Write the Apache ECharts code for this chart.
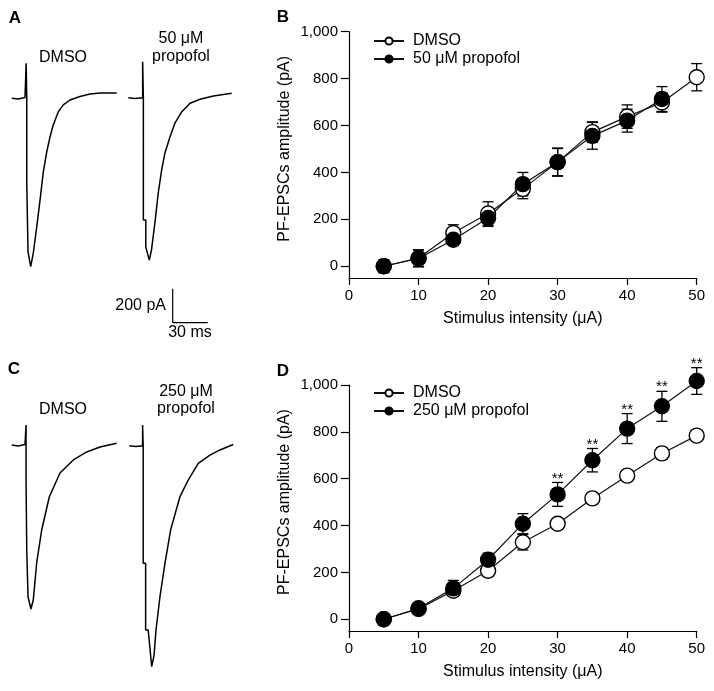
<!DOCTYPE html>
<html>
<head>
<meta charset="utf-8">
<script src="https://cdn.jsdelivr.net/npm/echarts@6/dist/echarts.min.js"></script>
<style>
html,body{margin:0;padding:0;background:#fff;}
#chart{width:714px;height:691px;}
</style>
</head>
<body>
<div id="chart"></div>
<script>
// ---------- data ----------
const intensity = [5, 10, 15, 20, 25, 30, 35, 40, 45, 50];
const xTicks = [0, 10, 20, 30, 40, 50];
const yTicks = [0, 200, 400, 600, 800, 1000];

// Panel B
const dmsoB = [0, 35, 142, 225, 330, 444, 572, 638, 698, 806];
const dmsoBErr = [25, 35, 35, 50, 42, 60, 44, 50, 41, 58];
const prop50B = [0, 33, 113, 206, 350, 444, 556, 621, 713];
const prop50BErr = [28, 36, 20, 36, 50, 58, 57, 49, 53];

// Panel D
const dmsoD = [0, 44, 122, 207, 329, 408, 516, 613, 708, 784];
const dmsoDErr = [10, 12, 20, 24, 33, 15, 25, 18, 25, 20];
const prop250D = [0, 47, 132, 254, 408, 533, 679, 814, 909, 1017];
const prop250DErr = [10, 12, 34, 28, 43, 51, 50, 64, 64, 57];
const sigD = [0, 0, 0, 0, 0, 1, 1, 1, 1, 1];

// Example traces: [time (ms), current (pA)]
const traceA_DMSO = [[0,0],[5.4,-4],[11.4,5],[12.4,206],[12.9,2],[12.9,-498],[14.0,-498],[14.0,-904],[16.3,-990],[18.5,-911],[21.4,-759],[24.3,-598],[27.1,-433],[30.0,-316],[32.8,-228],[35.6,-157],[39.9,-80],[44.2,-39],[50.0,-10],[58.5,11],[67.1,25],[75.7,31],[90,31]];
const traceA_Prop = [[0,0],[5.7,-4],[12.3,0],[12.3,212],[12.9,0],[12.9,-720],[15.0,-720],[15.0,-879],[18.0,-955],[19.9,-895],[22.9,-730],[25.7,-559],[28.6,-424],[31.4,-325],[35.7,-231],[40.0,-149],[45.7,-84],[52.9,-33],[61.5,-9],[72.9,10],[88.6,26]];
const traceC_DMSO = [[0,0],[5.4,-6],[11.4,3],[12.3,118],[12.3,-206],[12.9,-206],[12.9,-618],[14.0,-618],[14.0,-894],[16.5,-965],[18.5,-912],[21.4,-694],[25.7,-500],[32.2,-306],[41.4,-165],[52.8,-88],[64.3,-41],[75.7,-12],[90,10]];
const traceC_Prop = [[0,0],[5.7,-5],[11.4,0],[11.4,122],[11.9,0],[11.9,-692],[14.0,-692],[14.0,-1084],[16.2,-1084],[19.2,-1300],[21.2,-1233],[22.9,-1084],[26.3,-887],[30.6,-691],[35.4,-496],[43.4,-300],[50.5,-202],[59.1,-104],[69.1,-55],[77.7,-25],[89.1,7]];
const scaleBarMs = 30;
const scaleBarPa = 200;

// ---------- layout ----------
const FONT = '"Liberation Sans", Arial, sans-serif';
const pxPerMs = 35 / 30;
const pxPerPa = 34 / 200;
const tMax = 95, iMin = -1400, iMax = 300;

const grids = [];
const xAxes = [];
const yAxes = [];
const series = [];

function addTraceGrid(ox, baseY) {
  grids.push({
    left: ox, top: baseY - iMax * pxPerPa,
    width: tMax * pxPerMs, height: (iMax - iMin) * pxPerPa,
    containLabel: false
  });
  const gi = grids.length - 1;
  xAxes.push({ gridIndex: gi, type: 'value', min: 0, max: tMax, show: false });
  yAxes.push({ gridIndex: gi, type: 'value', min: iMin, max: iMax, show: false });
  return gi;
}
function addTrace(gi, data) {
  series.push({
    type: 'line', xAxisIndex: gi, yAxisIndex: gi, data: data,
    symbol: 'none', clip: false, silent: true,
    lineStyle: { color: '#000', width: 1.5 }
  });
}
addTrace(addTraceGrid(11.7, 98.3), traceA_DMSO);
addTrace(addTraceGrid(128.3, 97.7), traceA_Prop);
addTrace(addTraceGrid(11.7, 445), traceC_DMSO);
addTrace(addTraceGrid(129.3, 445.7), traceC_Prop);
// scale bar
const sbi = addTraceGrid(172.7, 322.7);
series.push({
  type: 'line', xAxisIndex: sbi, yAxisIndex: sbi,
  data: [[0, scaleBarPa], [0, 0], [scaleBarMs, 0]],
  symbol: 'none', clip: false, silent: true,
  lineStyle: { color: '#000', width: 1.2 }
});

// plots
function addPlotGrid(top, height) {
  grids.push({ left: 349, top: top, width: 347.7, height: height });
  const gi = grids.length - 1;
  xAxes.push({
    gridIndex: gi, type: 'value', min: 0, max: 50, interval: 10,
    name: 'Stimulus intensity (μA)', nameLocation: 'middle', nameGap: 33,
    nameTextStyle: { fontFamily: FONT, fontSize: 16, color: '#000' },
    axisLine: { onZero: false, lineStyle: { color: '#000', width: 1.2 } },
    axisTick: { show: true, length: 7, inside: false, lineStyle: { color: '#000', width: 1.2 } },
    axisLabel: { fontFamily: FONT, fontSize: 15, color: '#000', margin: 10 },
    splitLine: { show: false }
  });
  yAxes.push({
    gridIndex: gi, type: 'value', min: -50, max: 1000,
    name: 'PF-EPSCs amplitude (pA)', nameLocation: 'middle', nameGap: 56, nameRotate: 90,
    nameTextStyle: { fontFamily: FONT, fontSize: 16, color: '#000', padding: [0, 0, 0, 12] },
    axisLine: { show: true, onZero: false, lineStyle: { color: '#000', width: 1.2 } },
    axisTick: { show: true, length: 8, customValues: yTicks, lineStyle: { color: '#000', width: 1.2 } },
    axisLabel: {
      fontFamily: FONT, fontSize: 15, color: '#000', margin: 11, customValues: yTicks,
      formatter: v => v >= 1000 ? (Math.floor(v / 1000) + ',' + String(v % 1000).padStart(3, '0')) : String(v)
    },
    splitLine: { show: false }
  });
  return gi;
}

function errSeries(gi, xs, vals, errs, sig) {
  return {
    type: 'custom', xAxisIndex: gi, yAxisIndex: gi, clip: false, silent: true, z: 2,
    data: vals.map((v, i) => [xs[i], v, errs[i], sig ? sig[i] : 0]),
    renderItem: function (params, api) {
      const x = api.value(0), y = api.value(1), e = api.value(2), s = api.value(3);
      const t = api.coord([x, y + e]);
      const b = api.coord([x, y - e]);
      const w = 5.5;
      const st = { stroke: '#000', lineWidth: 1.3 };
      const ch = [
        { type: 'line', shape: { x1: t[0], y1: t[1], x2: b[0], y2: b[1] }, style: st },
        { type: 'line', shape: { x1: t[0] - w, y1: t[1], x2: t[0] + w, y2: t[1] }, style: st },
        { type: 'line', shape: { x1: b[0] - w, y1: b[1], x2: b[0] + w, y2: b[1] }, style: st }
      ];
      if (s) {
        ch.push({ type: 'text', x: t[0], y: t[1] - 4, style: {
          text: '**', fill: '#000', font: '15px ' + FONT, align: 'center', verticalAlign: 'middle' } });
      }
      return { type: 'group', children: ch };
    }
  };
}
function pts(xs, vals) { return vals.map((v, i) => [xs[i], v]); }
function lineSeries(gi, name, data, filled, z) {
  return {
    type: 'line', name: name, xAxisIndex: gi, yAxisIndex: gi, data: data,
    symbol: 'circle', symbolSize: 15, clip: false, z: z,
    lineStyle: { color: '#111', width: 1.2 },
    itemStyle: { color: filled ? '#000' : '#fff', borderColor: '#000', borderWidth: 1.4 },
    emphasis: { disabled: true }
  };
}

const gB = addPlotGrid(31.7, 246.3);
const gD = addPlotGrid(385, 246);

series.push(errSeries(gB, intensity, dmsoB, dmsoBErr));
series.push(lineSeries(gB, 'DMSO', pts(intensity, dmsoB), false, 3));
series.push(errSeries(gB, intensity, prop50B, prop50BErr));
series.push(lineSeries(gB, '50 μM propofol', pts(intensity, prop50B), true, 4));

series.push(errSeries(gD, intensity, dmsoD, dmsoDErr));
series.push(lineSeries(gD, 'DMSO ', pts(intensity, dmsoD), false, 3));
series.push(errSeries(gD, intensity, prop250D, prop250DErr, sigD));
series.push(lineSeries(gD, '250 μM propofol', pts(intensity, prop250D), true, 4));

function legendCfg(top, names) {
  return {
    data: names, orient: 'vertical', left: 373, top: top, padding: 0,
    itemWidth: 30, itemHeight: 9, itemGap: 2, selectedMode: false,
    textStyle: { fontFamily: FONT, fontSize: 16, color: '#000', padding: [0, 0, 0, 4] }
  };
}

function txt(x, y, s, opt) {
  return Object.assign({
    type: 'text', x: x, y: y, silent: true,
    style: { text: s, fill: '#000', font: '16px ' + FONT, align: 'center', verticalAlign: 'middle' }
  }, opt || {});
}
function bold(x, y, s) {
  return { type: 'text', x: x, y: y, silent: true,
    style: { text: s, fill: '#000', font: 'bold 17px ' + FONT, align: 'center', verticalAlign: 'middle' } };
}

const chart = echarts.init(document.getElementById('chart'), null, { renderer: 'canvas' });
chart.setOption({
  animation: false,
  backgroundColor: '#fff',
  grid: grids,
  xAxis: xAxes,
  yAxis: yAxes,
  legend: [legendCfg(33, ['DMSO', '50 μM propofol']), legendCfg(385, ['DMSO ', '250 μM propofol'])],
  series: series,
  graphic: [
    bold(15, 18, 'A'), bold(283, 17, 'B'), bold(14, 369, 'C'), bold(283, 371, 'D'),
    txt(63, 58, 'DMSO'), txt(181, 39, '50 μM'), txt(181, 57, 'propofol'),
    txt(63, 410, 'DMSO'), txt(186, 392, '250 μM'), txt(186, 409, 'propofol'),
    { type: 'text', x: 166, y: 306, silent: true,
      style: { text: '200 pA', fill: '#000', font: '16px ' + FONT, align: 'right', verticalAlign: 'middle' } },
    txt(190, 333, '30 ms')
  ]
});
</script>
</body>
</html>
